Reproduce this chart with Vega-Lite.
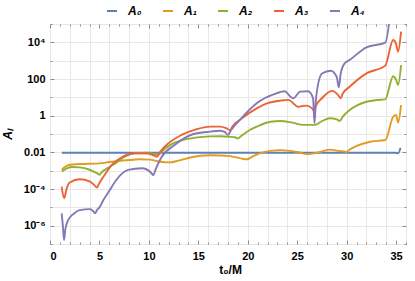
{
  "$schema": "https://vega.github.io/schema/vega-lite/v6.json",
  "width": 356,
  "height": 220,
  "autosize": {"type": "none"},
  "padding": {"left": 50, "top": 24, "right": 9, "bottom": 37},
  "config": {
    "view": {"stroke": "#8c8c8c", "strokeWidth": 1},
    "font": "Liberation Sans",
    "axis": {"labelFont": "Liberation Sans", "labelFontWeight": "bold", "labelFontSize": 11, "labelColor": "#000", "tickColor": "#8c8c8c", "domain": false, "gridColor": "#e8e8e8", "titleFont": "Liberation Sans", "titleFontWeight": "bold", "titleFontSize": 12, "titleColor": "#000"}
  },
  "data": {"values": [
    {"s":"A₀","t":1.2,"v":0.00955},{"s":"A₀","t":5,"v":0.00955},{"s":"A₀","t":10,"v":0.00955},{"s":"A₀","t":15,"v":0.00955},{"s":"A₀","t":20,"v":0.00955},{"s":"A₀","t":25,"v":0.00955},{"s":"A₀","t":30,"v":0.00955},{"s":"A₀","t":34.95,"v":0.00955},{"s":"A₀","t":35.2,"v":0.0089},{"s":"A₀","t":35.45,"v":0.0178},

    {"s":"A₁","t":1.2,"v":1.122e-3},{"s":"A₁","t":1.5,"v":1.585e-3},{"s":"A₁","t":1.9,"v":2.042e-3},{"s":"A₁","t":3.0,"v":2.291e-3},{"s":"A₁","t":5.0,"v":2.512e-3},{"s":"A₁","t":6.0,"v":2.951e-3},{"s":"A₁","t":7.0,"v":3.388e-3},{"s":"A₁","t":8.1,"v":3.802e-3},{"s":"A₁","t":9.0,"v":4.169e-3},{"s":"A₁","t":10.1,"v":3.981e-3},{"s":"A₁","t":11.0,"v":3.162e-3},{"s":"A₁","t":12.1,"v":2.818e-3},{"s":"A₁","t":13.0,"v":3.548e-3},{"s":"A₁","t":14.2,"v":5.248e-3},{"s":"A₁","t":15.2,"v":6.457e-3},{"s":"A₁","t":16.2,"v":6.918e-3},{"s":"A₁","t":17.2,"v":6.761e-3},{"s":"A₁","t":18.2,"v":6.166e-3},{"s":"A₁","t":19.3,"v":4.677e-3},{"s":"A₁","t":19.9,"v":4.169e-3},{"s":"A₁","t":20.5,"v":6.026e-3},{"s":"A₁","t":21.2,"v":8.71e-3},{"s":"A₁","t":22.3,"v":1.202e-2},{"s":"A₁","t":23.3,"v":1.318e-2},{"s":"A₁","t":24.3,"v":1.202e-2},{"s":"A₁","t":25.0,"v":1.047e-2},{"s":"A₁","t":26.0,"v":7.943e-3},{"s":"A₁","t":27.3,"v":1.047e-2},{"s":"A₁","t":28.3,"v":1.413e-2},{"s":"A₁","t":29.3,"v":1.175e-2},{"s":"A₁","t":29.7,"v":1.122e-2},{"s":"A₁","t":30.0,"v":1.047e-2},{"s":"A₁","t":30.3,"v":1.413e-2},{"s":"A₁","t":31.0,"v":2.239e-2},{"s":"A₁","t":32.4,"v":3.802e-2},{"s":"A₁","t":33.9,"v":4.677e-2},{"s":"A₁","t":34.7,"v":0.871},{"s":"A₁","t":35.0,"v":1.096},{"s":"A₁","t":35.2,"v":0.417},{"s":"A₁","t":35.5,"v":3.802},

    {"s":"A₂","t":1.2,"v":8.913e-4},{"s":"A₂","t":1.6,"v":1.259e-3},{"s":"A₂","t":2.2,"v":1.585e-3},{"s":"A₂","t":3.0,"v":1.514e-3},{"s":"A₂","t":4.0,"v":1.122e-3},{"s":"A₂","t":4.6,"v":7.943e-4},{"s":"A₂","t":4.8,"v":7.079e-4},{"s":"A₂","t":5.0,"v":6.026e-4},{"s":"A₂","t":5.2,"v":7.943e-4},{"s":"A₂","t":6.0,"v":1.585e-3},{"s":"A₂","t":6.6,"v":2.512e-3},{"s":"A₂","t":7.5,"v":5.623e-3},{"s":"A₂","t":8.6,"v":8.913e-3},{"s":"A₂","t":9.9,"v":9.55e-3},{"s":"A₂","t":10.9,"v":7.244e-3},{"s":"A₂","t":11.6,"v":1.585e-2},{"s":"A₂","t":12.5,"v":3.162e-2},{"s":"A₂","t":13.3,"v":4.467e-2},{"s":"A₂","t":14.7,"v":6.31e-2},{"s":"A₂","t":16.2,"v":7.413e-2},{"s":"A₂","t":17.2,"v":7.586e-2},{"s":"A₂","t":18.2,"v":7.079e-2},{"s":"A₂","t":18.7,"v":6.607e-2},{"s":"A₂","t":19.0,"v":5.623e-2},{"s":"A₂","t":19.3,"v":7.586e-2},{"s":"A₂","t":19.6,"v":0.1},{"s":"A₂","t":20.2,"v":0.166},{"s":"A₂","t":20.9,"v":0.251},{"s":"A₂","t":22.3,"v":0.468},{"s":"A₂","t":23.3,"v":0.513},{"s":"A₂","t":24.5,"v":0.417},{"s":"A₂","t":25.6,"v":0.316},{"s":"A₂","t":26.8,"v":0.316},{"s":"A₂","t":27.5,"v":0.501},{"s":"A₂","t":28.3,"v":0.724},{"s":"A₂","t":29.0,"v":0.631},{"s":"A₂","t":29.3,"v":0.513},{"s":"A₂","t":29.6,"v":0.891},{"s":"A₂","t":30.3,"v":2.042},{"s":"A₂","t":31.0,"v":3.548},{"s":"A₂","t":32.0,"v":5.754},{"s":"A₂","t":33.0,"v":7.079},{"s":"A₂","t":33.9,"v":7.762},{"s":"A₂","t":34.7,"v":141.3},{"s":"A₂","t":35.0,"v":89.1},{"s":"A₂","t":35.2,"v":46.8},{"s":"A₂","t":35.5,"v":562.3},

    {"s":"A₃","t":1.18,"v":1.349e-4},{"s":"A₃","t":1.42,"v":3.162e-5},{"s":"A₃","t":1.7,"v":1.122e-4},{"s":"A₃","t":2.0,"v":2.239e-4},{"s":"A₃","t":3.0,"v":3.388e-4},{"s":"A₃","t":4.05,"v":2.512e-4},{"s":"A₃","t":4.5,"v":1.585e-4},{"s":"A₃","t":4.75,"v":1.202e-4},{"s":"A₃","t":4.95,"v":1.905e-4},{"s":"A₃","t":5.4,"v":4.677e-4},{"s":"A₃","t":6.4,"v":2.512e-3},{"s":"A₃","t":7.1,"v":4.786e-3},{"s":"A₃","t":8.6,"v":8.913e-3},{"s":"A₃","t":9.9,"v":8.71e-3},{"s":"A₃","t":10.4,"v":7.079e-3},{"s":"A₃","t":10.8,"v":5.754e-3},{"s":"A₃","t":11.1,"v":1.0e-2},{"s":"A₃","t":11.6,"v":2.042e-2},{"s":"A₃","t":13.3,"v":8.913e-2},{"s":"A₃","t":14.7,"v":0.1738},{"s":"A₃","t":16.2,"v":0.2512},{"s":"A₃","t":17.2,"v":0.2512},{"s":"A₃","t":17.8,"v":0.2089},{"s":"A₃","t":18.2,"v":0.166},{"s":"A₃","t":18.5,"v":0.2818},{"s":"A₃","t":19.2,"v":0.589},{"s":"A₃","t":20.9,"v":2.512},{"s":"A₃","t":22.0,"v":4.786},{"s":"A₃","t":23.3,"v":6.607},{"s":"A₃","t":24.1,"v":7.244},{"s":"A₃","t":25.1,"v":3.09},{"s":"A₃","t":25.9,"v":3.548},{"s":"A₃","t":26.5,"v":2.512},{"s":"A₃","t":26.7,"v":1.778},{"s":"A₃","t":26.9,"v":3.548},{"s":"A₃","t":27.5,"v":8.913},{"s":"A₃","t":28.5,"v":22.39},{"s":"A₃","t":29.1,"v":14.13},{"s":"A₃","t":29.4,"v":8.913},{"s":"A₃","t":29.6,"v":15.85},{"s":"A₃","t":30.3,"v":38.02},{"s":"A₃","t":32.0,"v":204.2},{"s":"A₃","t":33.9,"v":537.0},{"s":"A₃","t":34.7,"v":13490},{"s":"A₃","t":35.0,"v":7943},{"s":"A₃","t":35.2,"v":3090},{"s":"A₃","t":35.5,"v":38020},

    {"s":"A₄","t":1.18,"v":4.677e-6},{"s":"A₄","t":1.3,"v":1.0e-6},{"s":"A₄","t":1.42,"v":1.66e-7},{"s":"A₄","t":1.55,"v":6.31e-7},{"s":"A₄","t":1.85,"v":2.042e-6},{"s":"A₄","t":2.4,"v":4.467e-6},{"s":"A₄","t":3.0,"v":7.079e-6},{"s":"A₄","t":4.05,"v":7.943e-6},{"s":"A₄","t":4.35,"v":6.31e-6},{"s":"A₄","t":4.55,"v":4.677e-6},{"s":"A₄","t":4.75,"v":7.079e-6},{"s":"A₄","t":5.0,"v":1.0e-5},{"s":"A₄","t":5.4,"v":2.512e-5},{"s":"A₄","t":6.0,"v":7.943e-5},{"s":"A₄","t":6.7,"v":3.09e-4},{"s":"A₄","t":7.9,"v":1.096e-3},{"s":"A₄","t":9.3,"v":1.349e-3},{"s":"A₄","t":10.2,"v":7.943e-4},{"s":"A₄","t":10.45,"v":5.754e-4},{"s":"A₄","t":10.7,"v":1.259e-3},{"s":"A₄","t":11.3,"v":5.754e-3},{"s":"A₄","t":12.6,"v":2.512e-2},{"s":"A₄","t":14.5,"v":0.1},{"s":"A₄","t":16.2,"v":0.1349},{"s":"A₄","t":17.2,"v":0.1514},{"s":"A₄","t":17.7,"v":0.1259},{"s":"A₄","t":18.0,"v":8.913e-2},{"s":"A₄","t":18.3,"v":0.1585},{"s":"A₄","t":19.2,"v":0.589},{"s":"A₄","t":20.9,"v":4.786},{"s":"A₄","t":22.9,"v":16.6},{"s":"A₄","t":23.7,"v":21.38},{"s":"A₄","t":24.6,"v":8.913},{"s":"A₄","t":25.3,"v":20.42},{"s":"A₄","t":26.1,"v":21.38},{"s":"A₄","t":26.6,"v":8.913},{"s":"A₄","t":26.75,"v":0.38},{"s":"A₄","t":26.9,"v":8.913},{"s":"A₄","t":27.5,"v":199.5},{"s":"A₄","t":28.4,"v":281.8},{"s":"A₄","t":29.0,"v":125.9},{"s":"A₄","t":29.2,"v":35.48},{"s":"A₄","t":29.4,"v":199.5},{"s":"A₄","t":29.8,"v":724.4},{"s":"A₄","t":30.3,"v":1096},{"s":"A₄","t":32.0,"v":5370},{"s":"A₄","t":33.9,"v":9550},{"s":"A₄","t":34.5,"v":1.0e6}
  ]},
  "layer": [
    {
      "mark": {"type": "line", "strokeWidth": 1.9, "interpolate": "monotone", "clip": true},
      "encoding": {
        "x": {"field": "t", "type": "quantitative", "scale": {"domain": [0, 36], "nice": false, "zero": false},
          "axis": {"orient": "bottom", "values": [0,1,2,3,4,5,6,7,8,9,10,11,12,13,14,15,16,17,18,19,20,21,22,23,24,25,26,27,28,29,30,31,32,33,34,35,36],
            "labelExpr": "datum.value % 5 == 0 ? '' + datum.value : ''",
            "tickSize": {"condition": {"test": "datum.value % 5 == 0", "value": -4}, "value": -2},
            "labelPadding": 10,
            "grid": true,
            "gridOpacity": {"condition": {"test": "datum.value % 2 == 0", "value": 1}, "value": 0},
            "title": "t₀/M", "titleX": 180, "titleY": 20, "titleBaseline": "top"}},
        "y": {"field": "v", "type": "quantitative", "scale": {"type": "log", "domain": [1e-7, 1e5], "nice": false},
          "axis": {"orient": "left", "values": [1e-7,1e-6,1e-5,1e-4,1e-3,1e-2,1e-1,1,10,100,1000,10000,100000],
            "labelExpr": "round(log(datum.value)/LN10) == -6 ? '10⁻⁶' : round(log(datum.value)/LN10) == -4 ? '10⁻⁴' : round(log(datum.value)/LN10) == -2 ? '0.01' : round(log(datum.value)/LN10) == 0 ? '1' : round(log(datum.value)/LN10) == 2 ? '100' : round(log(datum.value)/LN10) == 4 ? '10⁴' : ''",
            "tickSize": {"condition": {"test": "round(log(datum.value)/LN10) % 2 == 0", "value": -4}, "value": -2},
            "labelPadding": 9,
            "grid": true,
            "title": "Aₗ", "titleFontStyle": "italic", "titleX": -36, "titleY": 110, "titleAngle": -90}},
        "color": {"field": "s", "type": "nominal",
          "scale": {"domain": ["A₀","A₁","A₂","A₃","A₄"], "range": ["#5E81B5","#E19C24","#8FB032","#EB6235","#8778B3"]},
          "legend": {"orient": "none", "legendX": 56, "legendY": -19, "direction": "horizontal", "title": null,
            "symbolType": "stroke", "symbolStrokeWidth": 2, "symbolSize": 100, "labelFont": "Liberation Sans",
            "labelFontSize": 12, "labelFontWeight": "bold", "labelFontStyle": "italic", "labelColor": "#000",
            "columnPadding": 17, "labelOffset": 10}}
      }
    },
    {
      "mark": {"type": "point", "opacity": 0},
      "encoding": {
        "x": {"field": "t", "type": "quantitative",
          "axis": {"orient": "top", "values": [0,1,2,3,4,5,6,7,8,9,10,11,12,13,14,15,16,17,18,19,20,21,22,23,24,25,26,27,28,29,30,31,32,33,34,35,36],
            "labels": false, "grid": false, "title": null,
            "tickSize": {"condition": {"test": "datum.value % 5 == 0", "value": -4}, "value": -2}}},
        "y": {"field": "v", "type": "quantitative",
          "axis": {"orient": "right", "values": [1e-7,1e-6,1e-5,1e-4,1e-3,1e-2,1e-1,1,10,100,1000,10000,100000],
            "labels": false, "grid": false, "title": null,
            "tickSize": {"condition": {"test": "round(log(datum.value)/LN10) % 2 == 0", "value": -4}, "value": -2}}}
      }
    }
  ],
  "resolve": {"axis": {"x": "independent", "y": "independent"}}
}
